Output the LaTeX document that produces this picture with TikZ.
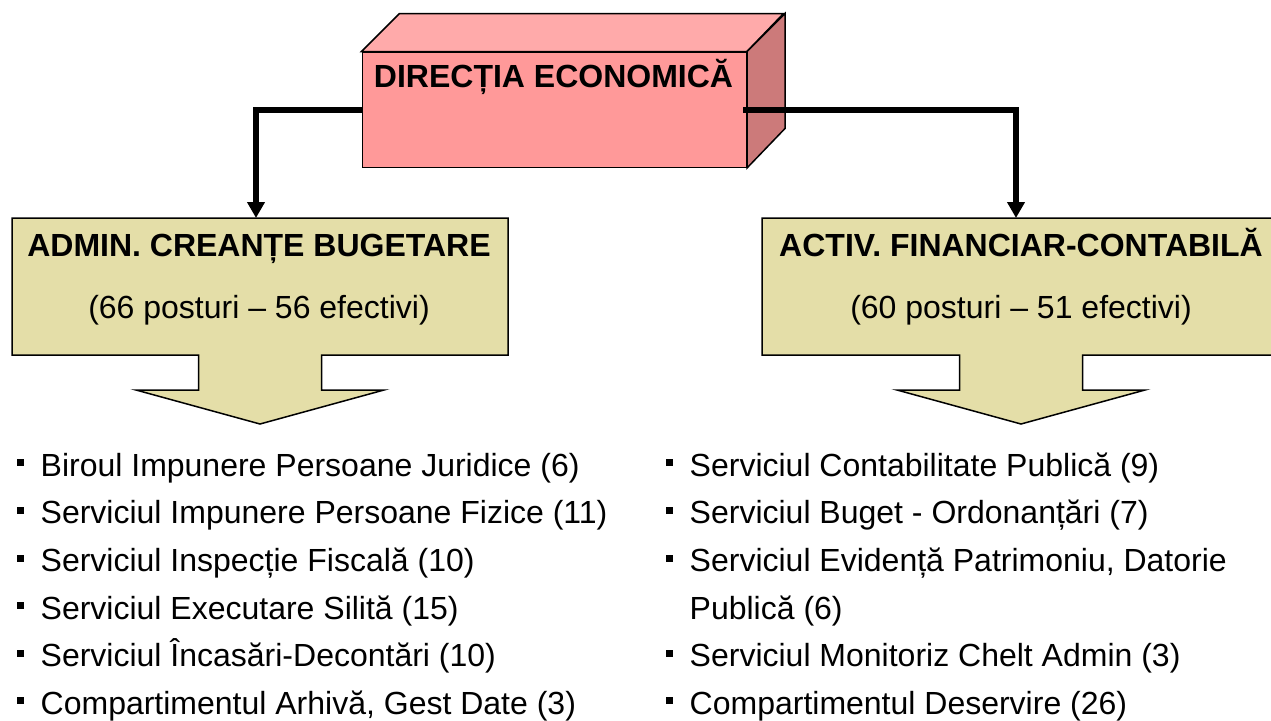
\documentclass[tikz,border=0pt]{standalone}
\usepackage{fontspec}
\setmainfont{Liberation Sans}
\usepackage{xcolor}
\usepackage{tikz}
\usetikzlibrary{positioning,arrows.meta}
\definecolor{pinkfront}{RGB}{255,153,153}
\definecolor{pinktop}{RGB}{255,170,170}
\definecolor{pinkside}{RGB}{204,122,122}
\definecolor{tanbox}{RGB}{228,222,168}
\newcommand{\bul}{\makebox[23.5pt][l]{\rule[10pt]{7pt}{7pt}}}
\newcommand{\nobul}{\makebox[23.5pt][l]{}}
\newcommand{\downcallout}[2]{(#1-#2,218) -- (#1+#2,218) -- (#1+#2,355) -- (#1+61.5,355) -- (#1+61.5,390)
  -- (#1+124,390) -- (#1,424) -- (#1-124,390) -- (#1-61.5,390) -- (#1-61.5,355) -- (#1-#2,355) -- cycle}

\begin{document}
\begin{tikzpicture}[x=1pt,y=-1pt,
    head/.style={font=\fontsize{32}{38}\selectfont\bfseries,inner sep=0,anchor=base},
    sub/.style={font=\fontsize{32}{38}\selectfont,inner sep=0,anchor=base},
    item/.style={font=\fontsize{32}{38}\selectfont,inner sep=0,anchor=base west},
    conn/.style={line width=5.5pt,-{Triangle[width=17pt,length=16pt]}},
    face/.style={draw=black,line width=1.5pt}]
\useasboundingbox (0,0) rectangle (1271,720);
\clip (0,0) rectangle (1271,720);
    \node[face,fill=pinkfront,minimum width=384pt,minimum height=115pt,inner sep=0,anchor=north west] (dir) at (361.5,51.5) {};
      \filldraw[face,fill=pinktop] (dir.north west) -- ++(38,-38) -- ++(384,0) -- (dir.north east) -- cycle;
      \filldraw[face,fill=pinkside] (dir.north east) -- ++(38,-38) -- ++(0,115) -- (dir.south east) -- cycle;
    \node[head] (dirtitle) at (553.5,87.5) {DIRECȚIA ECONOMICĂ};

          \filldraw[face,fill=tanbox] \downcallout{260}{248};
          \filldraw[face,fill=tanbox] \downcallout{1021}{259};
    \node[minimum width=496pt,minimum height=137pt,inner sep=0,anchor=north] (creante) at (260,218) {};
    \node[minimum width=518pt,minimum height=137pt,inner sep=0,anchor=north] (contab) at (1021,218) {};
    \node[head] (creantetitle) at (259,256) {ADMIN. CREANȚE BUGETARE};
    \node[sub] (creantesub) at (259,318.5) {(66 posturi – 56 efectivi)};
    \node[head] (contabtitle) at (1021,256) {ACTIV. FINANCIAR-CONTABILĂ};
    \node[sub] (contabsub) at (1021,318.5) {(60 posturi – 51 efectivi)};

          \draw[conn] (dir.west) -| ([xshift=-4pt]creante.north);
          \draw[conn] ([xshift=-4pt]dir.east) -| ([xshift=-5pt]contab.north);

    \foreach \txt [count=\i] in {{Biroul Impunere Persoane Juridice (6)},{Serviciul Impunere Persoane Fizice (11)},
        {Serviciul Inspecție Fiscală (10)},{Serviciul Executare Silită (15)},
        {Serviciul Încasări-Decontări (10)},{Compartimentul Arhivă, Gest Date (3)}}
      \node[item] (adm\i) at (17,428.7+47.6*\i) {\bul\txt};
    \foreach \txt [count=\i] in {{\bul Serviciul Contabilitate Publică (9)},{\bul Serviciul Buget - Ordonanțări (7)},
        {\bul Serviciul Evidență Patrimoniu, Datorie},{\nobul Publică (6)},
        {\bul Serviciul Monitoriz Chelt Admin (3)},{\bul Compartimentul Deservire (26)}}
      \node[item] (fin\i) at (666,428.7+47.6*\i) {\txt};
    \end{tikzpicture}
\end{document}
